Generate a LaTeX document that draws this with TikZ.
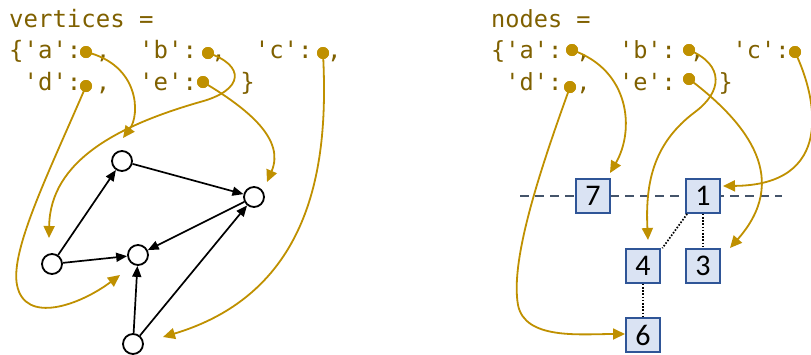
\documentclass[tikz,border=0pt]{standalone}
\usepackage{fontspec}
\setmonofont{DejaVu Sans Mono}
\newfontfamily\boxfont{Carlito}
\usetikzlibrary{arrows.meta}
\definecolor{codetext}{HTML}{7F6000}
\definecolor{gold}{HTML}{BF9000}
\definecolor{boxfill}{HTML}{DAE3F3}
\definecolor{boxdraw}{HTML}{2F5597}
\definecolor{dashgray}{HTML}{44546A}
\begin{document}
\begin{tikzpicture}[x=1pt,y=-1pt,
  code/.style={anchor=base west, inner sep=0pt, text=codetext, font=\ttfamily\fontsize{24}{28}\selectfont},
  coder/.style={code, font=\ttfamily\fontsize{23.6}{28}\selectfont},
  dotnode/.style={circle, fill=gold, inner sep=0pt, minimum size=12pt},
  vert/.style={circle, draw=black, line width=1.8pt, fill=white, inner sep=0pt, minimum size=20pt},
  sq/.style={draw=boxdraw, fill=boxfill, line width=1.7pt, minimum size=34pt, inner sep=0pt, font=\boxfont\fontsize{30}{32}\selectfont},
  ptr/.style={draw=gold, line width=1.8pt, -{Triangle[length=12pt,width=11pt]}},
  gedge/.style={draw=black, line width=1.7pt, -{Triangle[length=11pt,width=9pt]}},
  link/.style={draw=black, line width=1.7pt, dash pattern=on 1.6pt off 1.6pt},
]
\useasboundingbox (0,0) rectangle (811,354);

% ---------- left: code text ----------
\node[code] (l1) at (9,27) {vertices =};
\node[code] (l2) at (9,58) {\{'a':~,~~'b':~,~~'c':~,};
\node[code] (l3) at (9,90) {~'d':~,~~'e':~~~\}};

% ---------- left: graph ----------
\node[vert] (vt) at (122,161) {};
\node[vert] (vr) at (254,197) {};
\node[vert] (vm) at (138,255) {};
\node[vert] (vl) at (52,264) {};
\node[vert] (vb) at (133,344) {};

\draw[gedge] (vl) -- (vt);
\draw[gedge] (vt) -- (vr);
\draw[gedge] (vr) -- (vm);
\draw[gedge] (vl) -- (vm);
\draw[gedge] (vb) -- (vm);
\draw[gedge] (vb) -- (vr);

% ---------- left: pointers ----------
\coordinate (lta) at (123,138);
\coordinate (ltb) at (49,238);
\coordinate (ltc) at (163,337);
\coordinate (ltd) at (120,275);
\coordinate (lte) at (267,182);

\node[dotnode] (la) at (86,52) {};
\node[dotnode] (lb) at (208,53) {};
\node[dotnode] (lc) at (323,53) {};
\node[dotnode] (ld) at (86,86) {};
\node[dotnode] (le) at (203,82) {};

\draw[ptr] (la.center) .. controls (140,65) and (140,115) .. (lta);
\draw[ptr] (lb.center) .. controls (245,65) and (245,90) .. (200,102)
                      .. controls (120,125) and (50,160) .. (ltb);
\draw[ptr] (lc.center) .. controls (328,150) and (320,290) .. (ltc);
\draw[ptr] (ld.center) .. controls (50,170) and (10,250) .. (17,285)
                      .. controls (25,325) and (80,305) .. (ltd);
\draw[ptr] (le.center) .. controls (250,110) and (285,140) .. (lte);

\node[dotnode] at (la) {};
\node[dotnode] at (lb) {};
\node[dotnode] at (lc) {};
\node[dotnode] at (ld) {};
\node[dotnode] at (le) {};

% ---------- right: code text ----------
\node[coder] (r1) at (491,27) {nodes =};
\node[coder] (r2) at (491,58) {\{'a':~,~~'b':~,~~'c':};
\node[coder] (r3) at (491,90) {~'d':~,~~'e':~~~\}};

% ---------- right: boxes ----------
\coordinate (dl) at (520,196);
\coordinate (dr) at (782,196);
\draw[dashgray, line width=1.5pt, dash pattern=on 9pt off 6pt] (dl) -- (dr);

\node[sq] (b7) at (593,196) {7};
\node[sq] (b1) at (703,196) {1};
\node[sq] (b4) at (643,266) {4};
\node[sq] (b3) at (703,266) {3};
\node[sq] (b6) at (643,335) {6};

\draw[link] ([xshift=2pt]b1.south west) -- ([xshift=1.5pt]b4.north east);
\draw[link] (b1.south) -- (b3.north);
\draw[link] (b4.south) -- (b6.north);

% ---------- right: pointers ----------
\coordinate (rta) at (610,173);
\coordinate (rtb) at (648,240);
\coordinate (rtc) at (723,186);
\coordinate (rtd) at (625,334);
\coordinate (rte) at (730,248);

\node[dotnode] (ra) at (572,50) {};
\node[dotnode] (rb) at (689,50) {};
\node[dotnode] (rc) at (795,52) {};
\node[dotnode] (rd) at (570,87) {};
\node[dotnode] (re) at (689,79) {};

\draw[ptr] (ra.center) .. controls (630,70) and (635,130) .. (rta);
\draw[ptr] (rb.center) .. controls (725,65) and (722,92) .. (695,112)
                      .. controls (655,142) and (645,180) .. (rtb);
\draw[ptr] (rc.center) .. controls (818,100) and (834,185) .. (rtc);
\draw[ptr] (rd.center) .. controls (540,170) and (510,260) .. (518,305)
                      .. controls (525,340) and (580,334) .. (rtd);
\draw[ptr] (re.center) .. controls (750,125) and (790,180) .. (rte);

\node[dotnode] at (ra) {};
\node[dotnode] at (rb) {};
\node[dotnode] at (rc) {};
\node[dotnode] at (rd) {};
\node[dotnode] at (re) {};
\end{tikzpicture}
\end{document}
